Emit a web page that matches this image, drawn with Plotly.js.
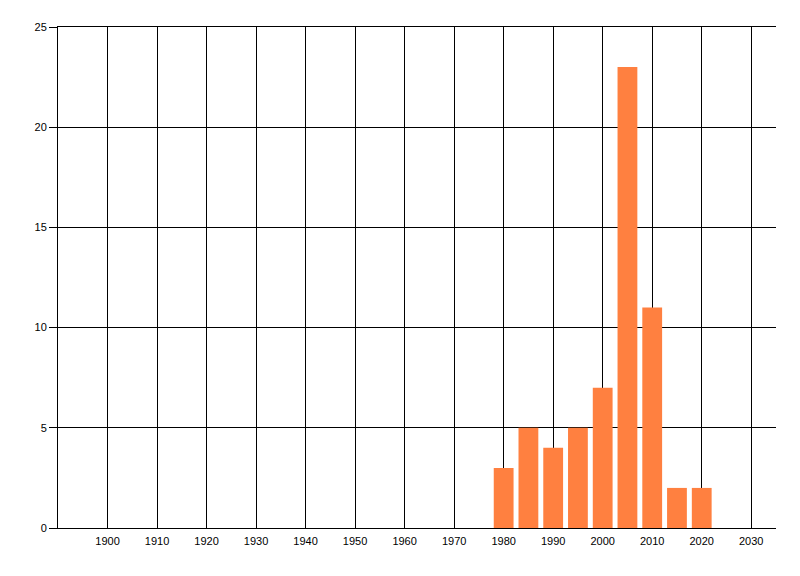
<!DOCTYPE html>
<html>
<head>
<meta charset="utf-8">
<script src="https://cdn.plot.ly/plotly-3.0.1.min.js"></script>
<style>html,body{margin:0;padding:0;background:#fff;}#chart{width:800px;height:576px;}</style>
</head>
<body>
<div id="chart"></div>
<script>
const years = [1980, 1985, 1990, 1995, 2000, 2005, 2010, 2015, 2020];
const counts = [3, 5, 4, 5, 7, 23, 11, 2, 2];
const xTicks = [1900, 1910, 1920, 1930, 1940, 1950, 1960, 1970, 1980, 1990, 2000, 2010, 2020, 2030];
const yTicks = [0, 5, 10, 15, 20, 25];

const trace = {
  type: 'bar',
  x: years,
  y: counts,
  width: 4,
  marker: {color: '#ff8040', line: {width: 0}},
  hoverinfo: 'x+y'
};

const layout = {
  width: 800,
  height: 576,
  margin: {l: 58, r: 24, t: 27, b: 48, pad: 0},
  paper_bgcolor: '#ffffff',
  plot_bgcolor: '#ffffff',
  showlegend: false,
  font: {family: 'Liberation Sans, Arial, sans-serif', size: 11, color: '#000000'},
  xaxis: {
    range: [1890, 2035],
    tickmode: 'array',
    tickvals: xTicks,
    ticktext: xTicks.map(String),
    showgrid: true,
    gridcolor: '#000000',
    gridwidth: 1,
    showline: true,
    linecolor: '#000000',
    linewidth: 1,
    mirror: true,
    ticks: '',
    ticklabelstandoff: 3,
    zeroline: false,
    fixedrange: true
  },
  yaxis: {
    range: [0, 25],
    tickmode: 'array',
    tickvals: yTicks,
    ticktext: yTicks.map(String),
    showgrid: true,
    gridcolor: '#000000',
    gridwidth: 1,
    showline: true,
    linecolor: '#000000',
    linewidth: 1,
    ticks: 'outside',
    ticklen: 8,
    tickcolor: '#000000',
    tickwidth: 1,
    zeroline: false,
    fixedrange: true
  }
};

Plotly.newPlot('chart', [trace], layout, {displayModeBar: false, staticPlot: true});
</script>
</body>
</html>
